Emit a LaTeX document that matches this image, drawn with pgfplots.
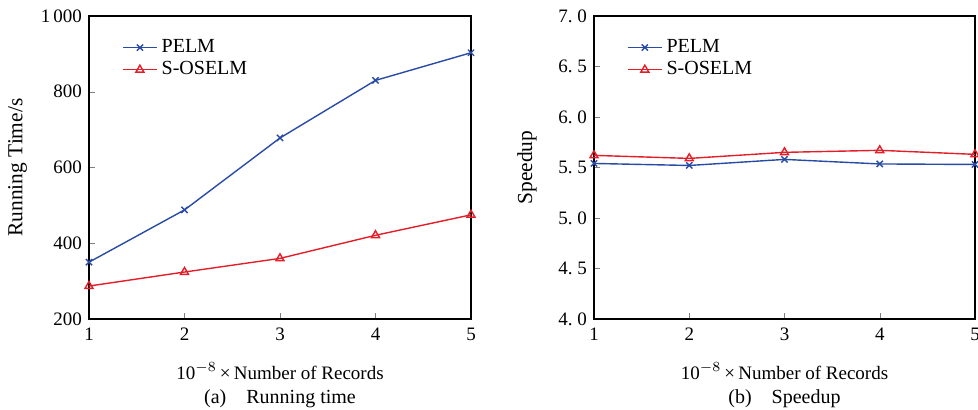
\documentclass[border=0pt]{standalone}
\usepackage{fontspec}
\setmainfont{Liberation Serif}
\usepackage{pgfplots}
\pgfplotsset{compat=1.18}
\definecolor{pelmblue}{RGB}{40,75,165}
\definecolor{oselmred}{RGB}{228,30,40}

\pgfplotsset{
  panel/.style={
    scale only axis,
    width=191pt, height=151.5pt,
    xmin=1, xmax=5, xtick={1,2,3,4,5},
    clip mode=individual,
    tick align=inside, xtick pos=bottom, ytick pos=left,
    major tick length=3pt,
    axis line style={line width=0.6pt},
    font=\fontsize{9.5}{11}\selectfont,
    /pgf/number format/assume math mode=true,
    /pgf/number format/1000 sep={\,},
    xlabel={10$^{-8}$\,×\,Number of Records},
    xlabel style={yshift=-4pt},
    ylabel style={font=\fontsize{10.7}{12}\selectfont},
    xticklabel style={yshift=-1pt},
    legend style={draw=none, fill=none, at={(0.07,0.95)}, anchor=north west,
      font=\fontsize{10}{12}\selectfont, row sep=-1pt},
    legend cell align=left,
  },
  pelm/.style={pelmblue, line width=0.7pt, mark=x, mark size=2.2pt},
  oselm/.style={oselmred, line width=0.7pt, mark=triangle, mark size=2.3pt},
}

\begin{document}
\begin{tikzpicture}
\clip (0,0) rectangle (489pt,205pt);

\begin{axis}[panel, at={(44.5pt,45.5pt)}, anchor=south west,
  ymin=200, ymax=1000, ytick={200,400,600,800,1000},
  ylabel={Running Time/s}]
\addplot[pelm] coordinates {(1,350) (2,488) (3,678) (4,830) (5,903)};
\addlegendentry{PELM}
\addplot[oselm] coordinates {(1,287) (2,324) (3,360) (4,421) (5,475)};
\addlegendentry{S-OSELM}
\node[font=\fontsize{10}{12}\selectfont] at (rel axis cs:0.5,-0.262) {(a)\quad Running time};
\end{axis}

\begin{axis}[panel, at={(297pt,45.5pt)}, anchor=south west, width=190.5pt,
  ymin=4, ymax=7, ytick={4,4.5,5,5.5,6,6.5,7},
  yticklabels={4.\ 0,4.\ 5,5.\ 0,5.\ 5,6.\ 0,6.\ 5,7.\ 0},
  ylabel={Speedup}, ylabel style={yshift=4pt}]
\addplot[pelm] coordinates {(1,5.54) (2,5.52) (3,5.58) (4,5.535) (5,5.53)};
\addlegendentry{PELM}
\addplot[oselm] coordinates {(1,5.62) (2,5.59) (3,5.65) (4,5.67) (5,5.63)};
\addlegendentry{S-OSELM}
\node[font=\fontsize{10}{12}\selectfont] at (rel axis cs:0.5,-0.262) {(b)\quad Speedup};
\end{axis}
\end{tikzpicture}
\end{document}
